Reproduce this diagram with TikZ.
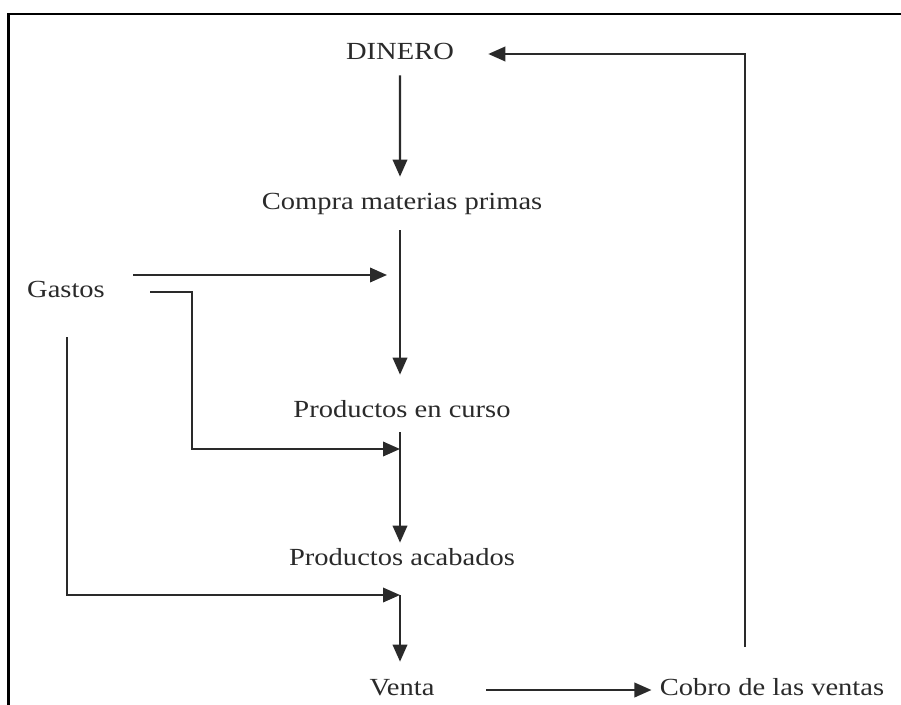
\documentclass[tikz,border=0pt]{standalone}
\usepackage{fontspec}
\setmainfont{Liberation Serif}
\usepackage{tikz}
\usetikzlibrary{arrows.meta}
\definecolor{eInk}{HTML}{2A2A2A}
\tikzset{lb/.style={font=\fontsize{14}{16}\selectfont, text=eInk, inner sep=0pt,
  text height=0.32cm, text depth=0.1cm, xscale=1.16}}
\tikzset{ar/.style={draw, eInk, line width=1.15pt, -{Triangle[length=0.34cm,width=0.29cm]}}}

\begin{document}
\begin{tikzpicture}[x=0.02cm,y=-0.02cm]
        \useasboundingbox (0,0) rectangle (901,705);
        %% frame
        \draw[line width=1.5pt] (8.7,705) -- (8.7,14) -- (901,14);
        %% main chain
        \node (dinero) at (400,54) [lb] {DINERO};
        \node (compra) at (402,204.5) [lb] {Compra materias primas};
        \node (curso) at (402,411.5) [lb] {Productos en curso};
        \node (acabados) at (402,559.5) [lb] {Productos acabados};
        \node (venta) at (402,690) [lb] {Venta};
        \node (cobro) at (772,690) [lb] {Cobro de las ventas};
        \node (gastos) at (66,292.5) [lb] {Gastos};
        \coordinate (g1) at (133,275); \coordinate (j1) at (387,275);
        \coordinate (g2) at (150,292); \coordinate (j2) at (400,449);
        \coordinate (g3) at (67,337);  \coordinate (j3) at (400,595);
        \draw [ar, shorten <=0.21cm, shorten >=0.34cm] (dinero) -- (dinero |- compra.north);
        \draw [ar, shorten <=0.3cm, shorten >=0.52cm] (compra.south -| dinero) -- (curso.north -| dinero);
        \draw [ar, shorten <=0.2cm, shorten >=0.12cm] (curso.south -| dinero) -- (acabados.north -| dinero);
        \draw [ar, shorten >=0.35cm] (j3) -- (venta.north -| j3);
        \draw [ar, shorten <=1.03cm, shorten >=0.16cm] (venta) -- (cobro);
        \draw [ar, shorten >=0.68cm] (cobro.north) ++(-27,-32) |- (dinero.east);
        %% gastos
        \draw [ar] (g1) -- (j1);
        \draw [ar] (g2) -- ++(42,0) |- (j2);
        \draw [ar] (g3) |- (j3);
\end{tikzpicture}
\end{document}
